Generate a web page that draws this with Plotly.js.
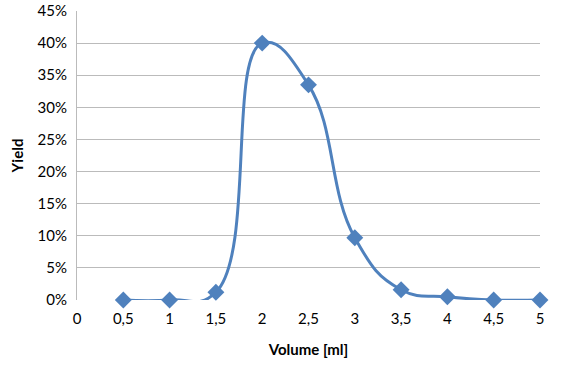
<!DOCTYPE html>
<html><head><meta charset="utf-8">
<script src="https://cdn.plot.ly/plotly-3.0.1.min.js"></script>
<style>html,body{margin:0;padding:0;background:#fff}#c{width:565px;height:367px}</style>
</head><body><div id="c"></div>
<script>
const volume = [0.5, 1, 1.5, 2, 2.5, 3, 3.5, 4, 4.5, 5];
const yieldVals = [0, 0, 0.012, 0.40, 0.335, 0.097, 0.016, 0.005, 0, 0];
const xTicks = [0, 0.5, 1, 1.5, 2, 2.5, 3, 3.5, 4, 4.5, 5];
const xTickText = ['0', '0,5', '1', '1,5', '2', '2,5', '3', '3,5', '4', '4,5', '5'];
const yTicks = [0, 0.05, 0.10, 0.15, 0.20, 0.25, 0.30, 0.35, 0.40, 0.45];
const yTickText = ['0%', '5%', '10%', '15%', '20%', '25%', '30%', '35%', '40%', '45%'];

const font = {family: 'Lato, "Open Sans", sans-serif', size: 15, color: '#000'};
Plotly.newPlot('c', [{
  x: volume, y: yieldVals, type: 'scatter', mode: 'lines+markers',
  line: {color: '#4F81BD', width: 3, shape: 'spline', smoothing: 1.3},
  marker: {symbol: 'diamond', size: 13, color: '#4F81BD'},
  cliponaxis: false
}], {
  width: 565, height: 367,
  margin: {l: 77, r: 25, t: 11, b: 67},
  paper_bgcolor: '#fff', plot_bgcolor: '#fff',
  showlegend: false,
  font: font,
  xaxis: {
    range: [0, 5], tickvals: xTicks, ticktext: xTickText,
    showgrid: false, zeroline: false, showline: false,
    ticks: '', ticklabelstandoff: 8,
    title: {text: '<b>Volume [ml]</b>', font: {family: font.family, size: 15}, standoff: 18}
  },
  yaxis: {
    range: [0, 0.45], tickvals: yTicks, ticktext: yTickText,
    showgrid: true, gridcolor: '#BBBBBB', gridwidth: 1,
    zeroline: false, showline: true, linecolor: '#BBBBBB', linewidth: 1,
    ticks: '', ticklabelstandoff: 6,
    title: {text: '<b>Yield</b>', font: {family: font.family, size: 15}, standoff: 10}
  }
}, {staticPlot: true});
</script></body></html>
